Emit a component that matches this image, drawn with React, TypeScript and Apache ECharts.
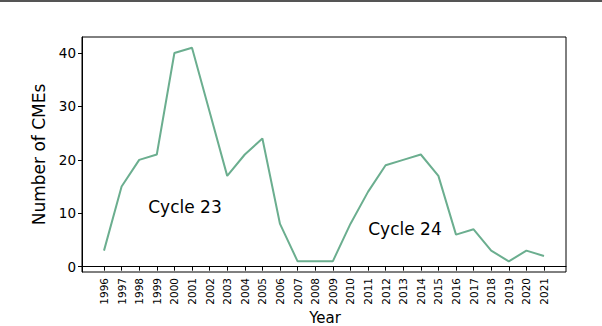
import React, { useEffect, useRef } from "react";
import * as echarts from "echarts";

const years = [1996, 1997, 1998, 1999, 2000, 2001, 2002, 2003, 2004, 2005, 2006, 2007, 2008, 2009, 2010, 2011, 2012, 2013, 2014, 2015, 2016, 2017, 2018, 2019, 2020, 2021];
const cmeCounts = [3, 15, 20, 21, 40, 41, 29, 17, 21, 24, 8, 1, 1, 1, 8, 14, 19, 20, 21, 17, 6, 7, 3, 1, 3, 2];
const yTicks = [0, 10, 20, 30, 40];
const annotations = [
  { text: "Cycle 23", x: 185, y: 207 },
  { text: "Cycle 24", x: 405, y: 229 },
];

const FONT = "DejaVu Sans";

export default function App() {
  const ref = useRef<HTMLDivElement>(null);
  useEffect(() => {
    if (!ref.current) return;
    const chart = echarts.init(ref.current, null, { renderer: "svg" });
    chart.setOption({
      animation: false,
      backgroundColor: "#ffffff",
      grid: {
        left: 82,
        right: 36,
        top: 37,
        bottom: 54,
        containLabel: false,
        outerBoundsMode: "none",
        show: true,
        borderColor: "#000",
        borderWidth: 1,
        backgroundColor: "transparent",
      },
      xAxis: {
        type: "value",
        min: 1994.75,
        max: 2022.25,
        splitLine: { show: false },
        axisLine: { show: true, lineStyle: { color: "#000", width: 1 } },
        axisTick: { show: true, customValues: years, length: 4, lineStyle: { color: "#000" } },
        axisLabel: {
          customValues: years,
          rotate: 90,
          margin: 6,
          fontFamily: FONT,
          fontSize: 10.5,
          color: "#000",
          formatter: (v: number) => String(v),
        },
      },
      yAxis: {
        type: "value",
        min: -1,
        max: 43,
        name: "Number of CMEs",
        nameLocation: "middle",
        nameGap: 27,
        nameTextStyle: { fontFamily: FONT, fontSize: 17, color: "#000" },
        splitLine: { show: false },
        axisLine: { show: true, lineStyle: { color: "#000", width: 1 } },
        axisTick: { show: true, customValues: yTicks, length: 4, lineStyle: { color: "#000" } },
        axisLabel: {
          customValues: yTicks,
          margin: 6,
          fontFamily: FONT,
          fontSize: 13.5,
          color: "#000",
          formatter: (v: number) => String(v),
        },
      },
      series: [
        {
          type: "line",
          data: years.map((y, i) => [y, cmeCounts[i]]),
          showSymbol: false,
          symbol: "none",
          lineStyle: { color: "#6bae8f", width: 2 },
          z: 3,
        },
      ],
      graphic: [
        {
          type: "rect",
          shape: { x: 0, y: 0, width: 602, height: 2 },
          style: { fill: "#555" },
        },
        {
          type: "text",
          x: 325,
          y: 318,
          style: {
            text: "Year",
            fontFamily: FONT,
            fontSize: 15,
            fill: "#000",
            textAlign: "center",
            textVerticalAlign: "middle",
          },
        },
        ...annotations.map((a) => ({
          type: "text",
          x: a.x,
          y: a.y,
          style: {
            text: a.text,
            fontFamily: FONT,
            fontSize: 17,
            fill: "#000",
            textAlign: "center",
            textVerticalAlign: "middle",
          },
        })),
      ],
    });
    return () => chart.dispose();
  }, []);
  return (
    <div
      ref={ref}
      style={{ position: "fixed", left: 0, top: 0, width: 602, height: 326 }}
    />
  );
}
